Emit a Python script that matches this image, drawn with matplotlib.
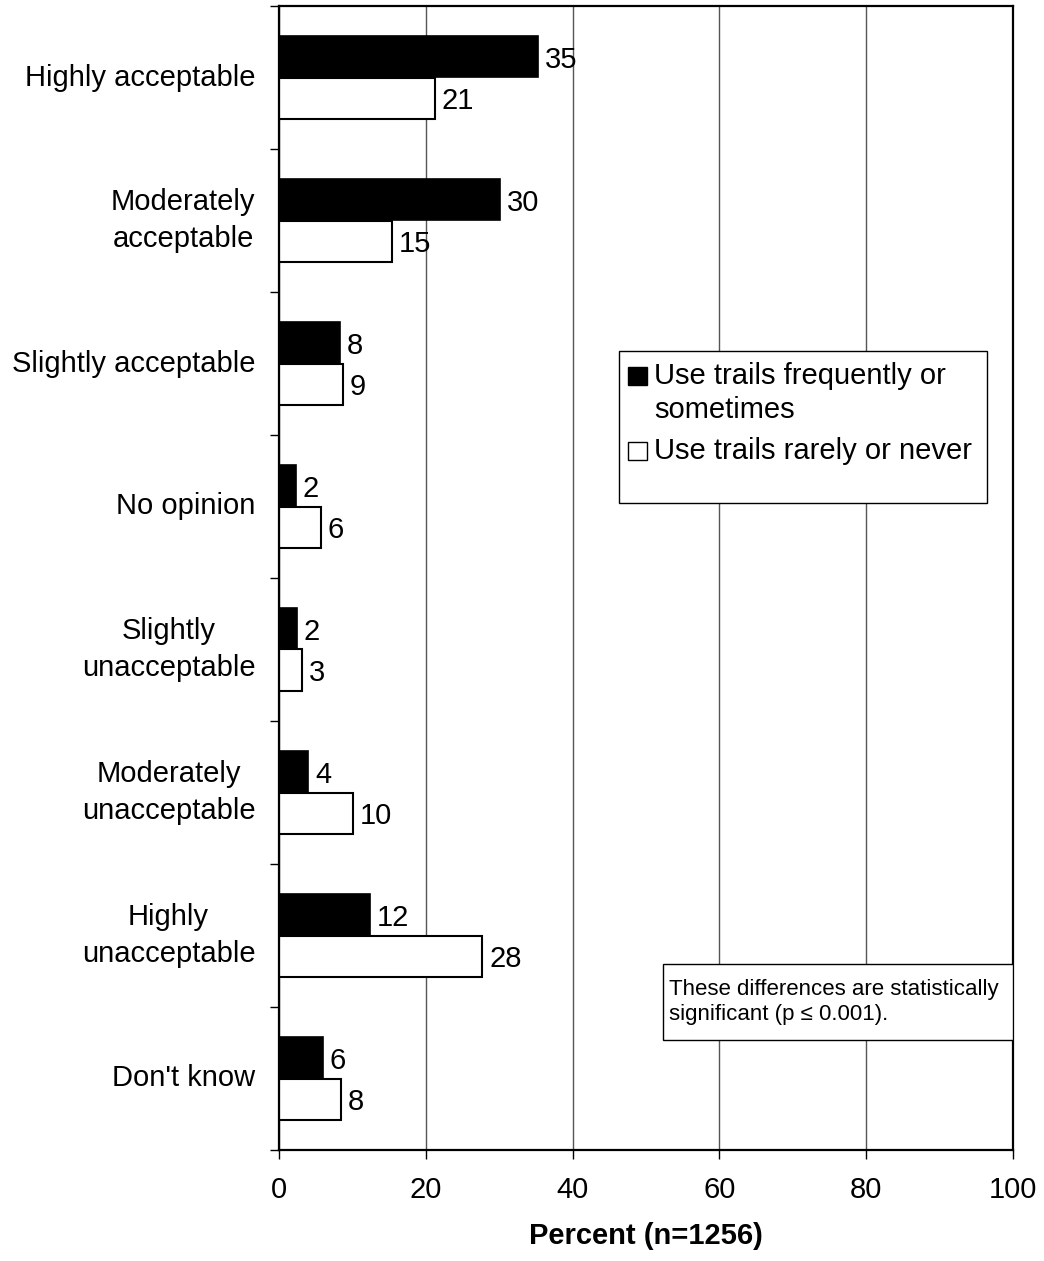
import matplotlib
matplotlib.use("Agg")
import matplotlib.pyplot as plt
from matplotlib.patches import Rectangle
import numpy as np

plt.rcParams["font.family"] = ["Liberation Sans", "DejaVu Sans"]

CATEGORIES = ["Highly acceptable", "Moderately\nacceptable", "Slightly acceptable",
              "No opinion", "Slightly\nunacceptable", "Moderately\nunacceptable",
              "Highly\nunacceptable", "Don't know"]
FREQUENT = [35.3, 30.1, 8.3, 2.3, 2.4, 4.0, 12.4, 6.0]
RARE = [21.2, 15.4, 8.7, 5.7, 3.1, 10.1, 27.7, 8.4]
SERIES_NAMES = ["Use trails frequently or\nsometimes", "Use trails rarely or never"]
XTICKS = [0, 20, 40, 60, 80, 100]

FS = 21
BAR_H = 0.29

# axes box in figure pixels
AX_L, AX_R, AX_T, AX_B = 279, 1013, 6, 1150


def px_x(px):
    return (px - AX_L) / (AX_R - AX_L)


def px_y(py):
    return 1 - (py - AX_T) / (AX_B - AX_T)


def main() -> None:
    fig = plt.figure(figsize=(10.44, 12.61), dpi=100)
    ax = fig.add_axes([AX_L / 1044, 1 - AX_B / 1261,
                       (AX_R - AX_L) / 1044, (AX_B - AX_T) / 1261])

    y = np.arange(len(CATEGORIES))
    ax.barh(y - BAR_H / 2, FREQUENT, height=BAR_H, color="black",
            edgecolor="black", lw=1.2, zorder=3, label=SERIES_NAMES[0])
    ax.barh(y + BAR_H / 2, RARE, height=BAR_H, color="white",
            edgecolor="black", lw=1.5, zorder=3, label=SERIES_NAMES[1])
    for yi, v in zip(y, FREQUENT):
        ax.annotate(f"{v:.0f}", (v, yi - BAR_H / 2), xytext=(5, 0),
                    textcoords="offset points", va="center_baseline",
                    ha="left", fontsize=FS, zorder=4)
    for yi, v in zip(y, RARE):
        ax.annotate(f"{v:.0f}", (v, yi + BAR_H / 2), xytext=(5, 0),
                    textcoords="offset points", va="center_baseline",
                    ha="left", fontsize=FS, zorder=4)

    ax.set_xlim(0, 100)
    ax.set_ylim(len(CATEGORIES) - 0.5, -0.5)
    ax.set_xticks(XTICKS)
    ax.tick_params(axis="x", direction="out", length=6.5, width=1,
                   labelsize=FS, pad=12.5)
    ax.set_yticks(np.arange(len(CATEGORIES) + 1) - 0.5)
    ax.set_yticklabels([])
    ax.set_yticks(y, minor=True)
    ax.set_yticklabels(CATEGORIES, minor=True, fontsize=FS, va="center",
                       multialignment="center", linespacing=1.42)
    ax.tick_params(axis="y", which="major", direction="out", length=6.5, width=1)
    ax.tick_params(axis="y", which="minor", length=0, pad=17)

    ax.grid(True, axis="x", color="#555555", lw=1, zorder=0)
    for s in ax.spines.values():
        s.set_linewidth(1.6)
        s.set_zorder(5)

    ax.set_xlabel("Percent (n=1256)", fontsize=FS, fontweight="bold",
                  labelpad=12.5)

    # legend drawn by hand: the frame is taller than its entries and the
    # marker sits on the first line of the wrapped label
    ax.add_patch(Rectangle((px_x(619), px_y(503)), px_x(987) - px_x(619),
                           px_y(351) - px_y(503), transform=ax.transAxes,
                           facecolor="white", edgecolor="black", lw=1,
                           zorder=6))
    leg_items = [("black", 367, 393), ("white", 442, 451)]
    for (fc, sq_top, text_y), name in zip(leg_items, SERIES_NAMES):
        ax.add_patch(Rectangle((px_x(628), px_y(sq_top + 18)),
                               px_x(647) - px_x(628), px_y(sq_top) - px_y(sq_top + 18),
                               transform=ax.transAxes, facecolor=fc,
                               edgecolor="black", lw=1, zorder=7))
        ax.text(px_x(654), px_y(text_y), name, transform=ax.transAxes,
                fontsize=FS, va="center", ha="left", linespacing=1.27,
                zorder=7)

    # significance note
    ax.add_patch(Rectangle((px_x(663), px_y(1040)), 1 - px_x(663),
                           px_y(964) - px_y(1040), transform=ax.transAxes,
                           facecolor="white", edgecolor="black", lw=1,
                           zorder=6))
    ax.text(px_x(669), px_y(1002),
            "These differences are statistically\n"
            "significant (p \u2264 0.001).",
            transform=ax.transAxes, fontsize=16, va="center", ha="left",
            linespacing=1.3, zorder=7)

    fig.savefig("out.png", dpi=100)
    plt.close(fig)


if __name__ == "__main__":
    main()
